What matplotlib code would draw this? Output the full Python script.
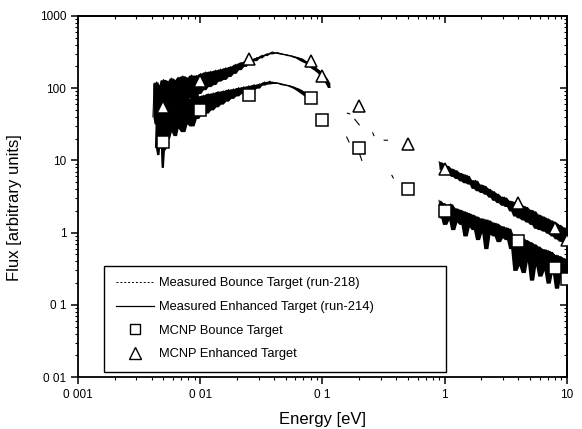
import numpy as np
import matplotlib.pyplot as plt
from matplotlib.lines import Line2D

plt.rcParams['font.family'] = ['Liberation Sans', 'DejaVu Sans']

# MCNP calculated points
mcnp_e = [0.005, 0.01, 0.025, 0.08, 0.1, 0.2, 0.5, 1.0, 4.0, 8.0, 10.0]
mcnp_bounce = [18, 50, 80, 73, 36, 15, 4.0, 2.0, 0.76, 0.32, 0.23]
mcnp_enh = [55, 125, 250, 240, 145, 57, 17, 7.6, 2.6, 1.15, 0.8]

# measured enhanced target (run-214), low energy part (noisy trace)
enh_lo_e = [0.0041, 0.0042, 0.0043, 0.0044, 0.0045, 0.0046, 0.0047, 0.0048, 0.0049, 0.0050,
            0.0052, 0.0054, 0.0056, 0.0058, 0.0060, 0.0062, 0.0064, 0.0066, 0.0069, 0.0072,
            0.0075, 0.0078, 0.0081, 0.0085, 0.0089, 0.0093, 0.0097, 0.0101, 0.0106, 0.0111,
            0.0116, 0.0122, 0.0128, 0.0134, 0.0140, 0.0147, 0.0154, 0.0162, 0.0170, 0.0178,
            0.0187, 0.0196, 0.0206, 0.0216, 0.0227, 0.0238, 0.0250, 0.0263, 0.0276, 0.0290,
            0.0305, 0.0320, 0.0336, 0.0353, 0.0370, 0.0390, 0.0410, 0.0430, 0.0450, 0.0480,
            0.0510, 0.0540, 0.0570, 0.0600, 0.0640, 0.0680, 0.0720, 0.0760, 0.0800, 0.0850,
            0.0900, 0.0950, 0.1000, 0.1050, 0.1100, 0.1150]
enh_lo_f = [40, 118, 32, 122, 45, 110, 38, 128, 50, 132,
            46, 125, 58, 138, 52, 130, 62, 142, 56, 148,
            68, 140, 74, 152, 70, 150, 84, 160, 95, 168,
            105, 172, 112, 178, 125, 184, 132, 192, 145, 200,
            160, 215, 180, 228, 200, 240, 220, 252, 240, 265,
            262, 285, 282, 300, 298, 318, 305, 312, 300, 295,
            290, 282, 278, 268, 262, 245, 232, 222, 205, 190,
            178, 165, 150, 135, 118, 102]

# measured bounce target (run-218), low energy part
bnc_lo_e = [0.0043, 0.0044, 0.0045, 0.0046, 0.0047, 0.0048, 0.0049, 0.0050, 0.0051, 0.0052,
            0.0054, 0.0056, 0.0058, 0.0060, 0.0062, 0.0064, 0.0066, 0.0069, 0.0072, 0.0075,
            0.0078, 0.0081, 0.0085, 0.0089, 0.0093, 0.0097, 0.0101, 0.0106, 0.0111, 0.0116,
            0.0122, 0.0128, 0.0134, 0.0140, 0.0147, 0.0154, 0.0162, 0.0170, 0.0178, 0.0187,
            0.0196, 0.0206, 0.0216, 0.0227, 0.0238, 0.0250, 0.0263, 0.0276, 0.0290, 0.0305,
            0.0320, 0.0336, 0.0353, 0.0370, 0.0390, 0.0410, 0.0430, 0.0450, 0.0480, 0.0510,
            0.0540, 0.0570, 0.0600, 0.0640, 0.0680, 0.0720, 0.0760]
bnc_lo_f = [15, 55, 12, 60, 18, 48, 8, 62, 14, 58,
            20, 64, 25, 60, 22, 66, 28, 70, 25, 68,
            32, 72, 30, 75, 38, 78, 42, 80, 45, 84,
            50, 86, 55, 90, 60, 92, 66, 96, 72, 98,
            78, 102, 84, 105, 90, 108, 95, 112, 100, 115,
            110, 122, 114, 125, 116, 120, 118, 116, 112, 110,
            108, 104, 100, 95, 88, 82, 76]

# sparse fragments between 0.1 and 0.5 eV
enh_mid_e = [0.160, 0.167, np.nan, 0.184, 0.200, np.nan, 0.258, 0.264, np.nan, 0.32, 0.34]
enh_mid_f = [45, 44, np.nan, 37, 31, np.nan, 24, 22, np.nan, 19, 19]
bnc_mid_e = [0.158, 0.165, np.nan, 0.200, 0.210, np.nan, 0.370, 0.380]
bnc_mid_f = [21, 18, np.nan, 12.7, 10, np.nan, 6.2, 5.7]

# high energy part (both runs share the energy grid)
hi_e = [0.90, 0.93, 0.96, 1.00, 1.04, 1.08, 1.12, 1.16, 1.21, 1.26,
        1.31, 1.36, 1.41, 1.47, 1.53, 1.59, 1.65, 1.72, 1.79, 1.86,
        1.93, 2.01, 2.09, 2.17, 2.26, 2.35, 2.44, 2.54, 2.64, 2.75,
        2.86, 2.97, 3.09, 3.21, 3.34, 3.47, 3.61, 3.76, 3.91, 4.06,
        4.23, 4.40, 4.57, 4.75, 4.94, 5.14, 5.35, 5.56, 5.78, 6.01,
        6.25, 6.50, 6.76, 7.03, 7.31, 7.60, 7.91, 8.22, 8.55, 8.89,
        9.25, 9.62, 10.0]
enh_hi_f = [9.6, 7.5, 9.2, 6.9, 8.5, 6.4, 7.8, 6.0, 7.4, 5.6,
            6.8, 5.2, 6.5, 4.9, 6.2, 4.7, 5.4, 4.1, 5.3, 3.8,
            4.7, 3.6, 4.5, 3.4, 4.1, 3.1, 3.8, 2.8, 3.5, 2.6,
            3.2, 2.4, 3.1, 2.3, 2.8, 2.0, 2.7, 1.7, 2.5, 1.6,
            2.4, 1.5, 2.3, 1.4, 2.1, 1.3, 2.0, 1.15, 1.8, 1.1,
            1.7, 1.05, 1.6, 0.98, 1.5, 0.9, 1.4, 0.82, 1.3, 0.76,
            1.2, 0.7, 1.1]
bnc_hi_f = [2.8, 1.6, 2.6, 1.3, 2.4, 1.5, 2.5, 1.1, 2.2, 1.4,
            2.1, 1.3, 2.0, 0.9, 1.9, 1.2, 1.8, 1.1, 1.7, 0.8,
            1.6, 1.0, 1.55, 0.6, 1.5, 0.95, 1.4, 0.9, 1.35, 0.75,
            1.25, 0.85, 1.2, 0.8, 1.15, 0.6, 0.95, 0.3, 0.9, 0.35,
            0.85, 0.28, 0.8, 0.4, 0.75, 0.22, 0.7, 0.35, 0.65, 0.25,
            0.6, 0.3, 0.58, 0.2, 0.55, 0.28, 0.5, 0.17, 0.48, 0.25,
            0.45, 0.2, 0.4]

x_ticks = [0.001, 0.01, 0.1, 1, 10]
x_labels = ['0 001', '0 01', '0 1', '1', '10']
y_ticks = [0.01, 0.1, 1, 10, 100, 1000]
y_labels = ['0 01', '0 1', '1', '10', '100', '1000']


def noisy(ax, e, f, lw=0.7):
    # the measured traces are very noisy: draw the jagged trace and
    # blacken the band it sweeps between neighbouring samples
    f = np.asarray(f, dtype=float)
    prev = np.r_[f[0], f[:-1]]
    nxt = np.r_[f[1:], f[-1]]
    lo = np.minimum(np.minimum(prev, f), nxt)
    hi = np.maximum(np.maximum(prev, f), nxt)
    ax.fill_between(e, lo, hi, color='black', lw=0)
    ax.plot(e, f, color='black', lw=lw)


fig = plt.figure(figsize=(5.82, 4.29), dpi=100)
ax = fig.add_axes([0.134, 0.121, 0.840, 0.842])
ax.set_xscale('log')
ax.set_yscale('log')
ax.set_xlim(0.001, 10)
ax.set_ylim(0.01, 1000)

noisy(ax, enh_lo_e, enh_lo_f)
noisy(ax, bnc_lo_e, bnc_lo_f)
noisy(ax, hi_e, enh_hi_f)
noisy(ax, hi_e, bnc_hi_f)
ax.plot(enh_mid_e, enh_mid_f, color='black', lw=0.8)
ax.plot(bnc_mid_e, bnc_mid_f, color='black', lw=0.8)

ax.plot(mcnp_e, mcnp_bounce, ls='none', marker='s', ms=8, mfc='white',
        mec='black', mew=1.1, zorder=5)
ax.plot(mcnp_e, mcnp_enh, ls='none', marker='^', ms=9, mfc='white',
        mec='black', mew=1.1, zorder=5)

ax.set_xticks(x_ticks, x_labels)
ax.set_yticks(y_ticks, y_labels)
ax.tick_params(which='major', direction='out', length=5, width=1.1,
               labelsize=8.5, top=False, right=False)
ax.tick_params(which='minor', direction='out', length=2.5, width=0.8,
               top=False, right=False)
for s in ax.spines.values():
    s.set_linewidth(1.3)

secx = ax.secondary_xaxis('top')
secx.set_xticks(x_ticks)
secx.tick_params(which='major', direction='in', length=5, width=1.1, labeltop=False)
secx.tick_params(which='minor', direction='in', length=2.5, width=0.8)
secy = ax.secondary_yaxis('right')
secy.set_yticks(y_ticks)
secy.tick_params(which='major', direction='in', length=5, width=1.1, labelright=False)
secy.tick_params(which='minor', direction='in', length=2.5, width=0.8)
for sa in (secx, secy):
    for s in sa.spines.values():
        s.set_linewidth(1.3)

ax.set_xlabel('Energy [eV]', fontsize=12, labelpad=8)
ax.set_ylabel('Flux [arbitrary units]', fontsize=12)
ax.yaxis.set_label_coords(-0.115, 0.47)

handles = [
    Line2D([], [], color='black', lw=0.7, ls=(0, (2, 2))),
    Line2D([], [], color='black', lw=0.9),
    Line2D([], [], ls='none', marker='s', ms=7, mfc='white', mec='black', mew=1.0),
    Line2D([], [], ls='none', marker='^', ms=8, mfc='white', mec='black', mew=1.0),
]
labels = ['Measured Bounce Target (run-218)', 'Measured Enhanced Target (run-214)',
          'MCNP Bounce Target', 'MCNP Enhanced Target']
leg = ax.legend(handles, labels, loc='lower left',
                bbox_to_anchor=(0.053, 0.014, 0.699, 0.302), mode='expand',
                borderaxespad=0, fontsize=9.3, handlelength=3.0,
                handletextpad=0.4, labelspacing=0.9, borderpad=0.9,
                fancybox=False, framealpha=1, edgecolor='black')
leg.get_frame().set_linewidth(1.0)

fig.savefig('out.png', dpi=100)
